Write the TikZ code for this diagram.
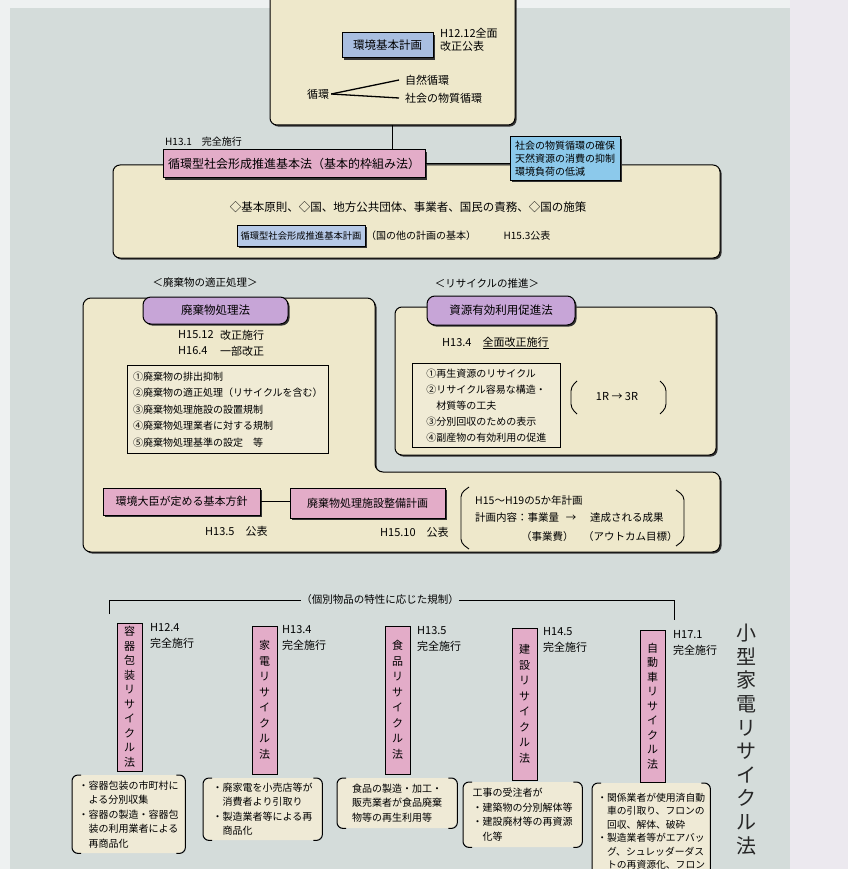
\documentclass[tikz,border=0pt]{standalone}
\usepackage{fontspec}
\setmainfont{Noto Sans CJK JP}
\usetikzlibrary{shadows,calc}
\newcommand{\fs}[2]{\fontsize{#1pt}{#2pt}\selectfont}
\definecolor{pagebg}{HTML}{D4DCDA}
\definecolor{edgewhite}{HTML}{EEF1F1}
\definecolor{rightstrip}{HTML}{ECE9EF}
\definecolor{creamc}{HTML}{EEE8CB}
\definecolor{pinkc}{HTML}{E3ACC8}
\definecolor{purplec}{HTML}{C7A5D7}
\definecolor{envblue}{HTML}{A9BEE0}
\definecolor{goalblue}{HTML}{8CC9EB}
\definecolor{planblue}{HTML}{B6C9E7}
\definecolor{itemc}{HTML}{F0EBD5}
\definecolor{descc}{HTML}{EFEAD6}
\tikzset{
  shad/.style={drop shadow={shadow xshift=1.6pt, shadow yshift=-1.6pt, fill=black!80, opacity=1}},
  creambox/.style={draw=black, line width=1pt, fill=creamc, rounded corners=7pt, shad, inner sep=0pt},
  pinkbox/.style={draw=black, line width=1pt, fill=pinkc, inner sep=0pt, shad, font=\fs{12}{14}},
  purplebox/.style={draw=black, line width=1pt, fill=purplec, rounded corners=8pt, inner sep=0pt, shad, font=\fs{11.5}{14}},
  bluebox/.style={draw=black, line width=1pt, inner sep=0pt, shad},
  itembox/.style={draw=black, line width=0.9pt, fill=itemc, inner sep=3pt, align=left, anchor=north west},
  vbox/.style={draw=black, line width=0.9pt, fill=pinkc, inner sep=0pt, align=center, font=\fs{11}{14.5}, minimum width=25pt},
  descbox/.style={fill=descc, rounded corners=8pt, inner xsep=5pt, inner ysep=4pt, align=left, anchor=north west, font=\fs{10}{14.5}},
  txt/.style={inner sep=0pt, font=\fs{11}{13}},
  conn/.style={draw=black, line width=1pt},
  brkline/.style={draw=black, line width=1pt, rounded corners=6pt},
  parenline/.style={draw=black, line width=0.9pt, rounded corners=4pt},
}
\newcommand{\brk}[1]{%
  \draw[brkline] ([xshift=9pt]#1.north west) -- (#1.north west) -- (#1.south west) -- ([xshift=9pt]#1.south west);
  \draw[brkline] ([xshift=-9pt]#1.north east) -- (#1.north east) -- (#1.south east) -- ([xshift=-9pt]#1.south east);}
\begin{document}
\begin{tikzpicture}[x=1pt,y=-1pt]
\useasboundingbox (0,0) rectangle (848,869);
% page
\fill[pagebg] (0,0) rectangle (848,869);
\fill[edgewhite] (0,0) rectangle (848,8);
\fill[edgewhite] (0,0) rectangle (10,869);
\fill[rightstrip] (790,0) rectangle (848,869);

% ---------- top: environment basic plan ----------
\node[creambox, minimum width=245pt, minimum height=140pt] (top) at (392.5,55) {};
\node[bluebox, fill=envblue, minimum width=91pt, minimum height=25pt, font=\fs{11.5}{13}] (envplan) at (387.5,45.5) {環境基本計画};
\node[txt, align=left, anchor=west, font=\fs{11}{13}] (envdate) at (440,40) {H12.12全面\\改正公表};
\node[txt] (junkan) at (318,94) {循環};
\node[txt, anchor=west] (shizen) at (405,80) {自然循環};
\node[txt, anchor=west] (shakai) at (405,98) {社会の物質循環};
\draw[conn, line width=1.3pt] ([xshift=2pt]junkan.east) -- ([xshift=-6pt]shizen.west);
\draw[conn, line width=1.3pt] ([xshift=2pt]junkan.east) -- ([xshift=-6pt]shakai.west);

% ---------- basic law frame ----------
\node[creambox, minimum width=607pt, minimum height=93pt] (big) at (416.5,211.5) {};
\node[pinkbox, minimum width=262pt, minimum height=28pt] (law) at (294,164) {循環型社会形成推進基本法（基本的枠組み法）};
\node[bluebox, fill=goalblue, minimum width=110pt, minimum height=43pt, align=left, font=\fs{10}{13}] (goal) at (565,158.5) {社会の物質循環の確保\\天然資源の消費の抑制\\環境負荷の低減};
\draw[conn] (top.south) -- (top.south |- law.north);
\draw[conn] (law.east) -- (law.east -| goal.west);
\node[txt, anchor=west, font=\fs{10}{12}] (lawdate) at (165,142) {H13.1\quad 完全施行};
\node[txt, font=\fs{11.5}{13}] (principles) at (408,207) {◇基本原則、◇国、地方公共団体、事業者、国民の責務、◇国の施策};
\node[bluebox, fill=planblue, minimum width=128pt, minimum height=21pt, font=\fs{9.3}{12}] (plan) at (301,236) {循環型社会形成推進基本計画};
\node[txt, font=\fs{10}{12}] (planrole) at (421,236) {（国の他の計画の基本）};
\node[txt, font=\fs{10}{12}] (plandate) at (527,236) {H15.3公表};

% ---------- waste section (left) ----------
\node[txt, font=\fs{10.5}{12}] (wastehead) at (205,283) {＜廃棄物の適正処理＞};
\node[txt, font=\fs{10.5}{12}] (rechead) at (487,283) {＜リサイクルの推進＞};
\path[draw=black, line width=1pt, fill=creamc, rounded corners=8pt, shad]
  (83,298) -- (375,298) -- (375,472) -- (720,472) -- (720,552) -- (83,552) -- cycle;
\node[creambox, minimum width=321pt, minimum height=148pt] (recbox) at (555.5,381) {};

\node[purplebox, minimum width=145pt, minimum height=27pt] (wastelaw) at (215.5,310.5) {廃棄物処理法};
\node[txt, anchor=west, font=\fs{11}{13}] (wd1a) at (178,335) {H15.12};
\node[txt, anchor=west, font=\fs{11}{13}] (wd1b) at (220,335) {改正施行};
\node[txt, anchor=west, font=\fs{11}{13}] (wd2a) at (178,351) {H16.4};
\node[txt, anchor=west, font=\fs{11}{13}] (wd2b) at (220,351) {一部改正};
\node[itembox, font=\fs{10}{16.5}, minimum width=201pt, minimum height=88pt] (witems) at (127,365) {①廃棄物の排出抑制\\②廃棄物の適正処理（リサイクルを含む）\\③廃棄物処理施設の設置規制\\④廃棄物処理業者に対する規制\\⑤廃棄物処理基準の設定　等};

\node[pinkbox, minimum width=157pt, minimum height=27pt, font=\fs{11}{13}] (hoshin) at (181.5,501.5) {環境大臣が定める基本方針};
\node[pinkbox, minimum width=155pt, minimum height=30pt, font=\fs{11}{13}] (seibi) at (367.5,503) {廃棄物処理施設整備計画};
\draw[conn] (hoshin.east) -- (hoshin.east -| seibi.west);
\node[txt, anchor=west] (hoshindate) at (205,531) {H13.5\quad 公表};
\node[txt, anchor=west] (seibidate) at (380,532) {H15.10\quad 公表};
\node[txt, anchor=west, font=\fs{10.5}{12}] (five1) at (475,500) {H15～H19の5か年計画};
\node[txt, anchor=west, font=\fs{10.5}{12}] (five2) at (475,518) {計画内容：事業量};
\node[txt, font=\fs{10.5}{12}] (five2arrow) at (571,518) {→};
\node[txt, anchor=west, font=\fs{10.5}{12}] (five2b) at (590,518) {達成される成果};
\node[txt, anchor=west, font=\fs{10.5}{12}] (five3a) at (521,537) {（事業費）};
\node[txt, anchor=west, font=\fs{10.5}{12}] (five3b) at (583,537) {（アウトカム目標）};
\draw[parenline] (469,487) -- (461,493) -- (461,543) -- (469,549);
\draw[parenline] (676,490) -- (684,496) -- (684,540) -- (676,546);

% ---------- recycling section (right) ----------
\node[purplebox, minimum width=148pt, minimum height=29pt] (reslaw) at (501,310.5) {資源有効利用促進法};
\node[txt, anchor=west] (rdate) at (442,343) {H13.4\quad \underline{全面改正施行}};
\node[itembox, font=\fs{10}{16}, minimum width=148pt, minimum height=84pt] (ritems) at (412,363) {①再生資源のリサイクル\\②リサイクル容易な構造・\\　材質等の工夫\\③分別回収のための表示\\④副産物の有効利用の促進};
\node[txt, font=\fs{11}{13}] (rr) at (617,397) {1R → 3R};
\draw[parenline] (577,381) -- (571,387) -- (571,408) -- (577,414);
\draw[parenline] (660,381) -- (666,387) -- (666,408) -- (660,414);

% ---------- individual recycling laws ----------
\node[txt, font=\fs{10.5}{12}] (kobetsu) at (380,600) {（個別物品の特性に応じた規制）};
\coordinate (brL) at (109,614);
\coordinate (brR) at (674,620);
\draw[conn] (brL) |- (kobetsu.west);
\draw[conn] (kobetsu.east) -| (brR);

\node[vbox, minimum height=148pt] (yoki) at (129.5,697) {容\\器\\包\\装\\リ\\サ\\イ\\ク\\ル\\法};
\node[vbox, minimum height=148pt, font=\fs{11}{15.5}] (kaden) at (264.5,700) {家\\電\\リ\\サ\\イ\\ク\\ル\\法};
\node[vbox, minimum height=148pt, font=\fs{11}{15.5}] (shokuhin) at (397.5,700) {食\\品\\リ\\サ\\イ\\ク\\ル\\法};
\node[vbox, minimum height=152pt, font=\fs{11}{15.5}] (kensetsu) at (524.5,704) {建\\設\\リ\\サ\\イ\\ク\\ル\\法};
\node[vbox, minimum height=152pt] (jidosha) at (652.5,706) {自\\動\\車\\リ\\サ\\イ\\ク\\ル\\法};

\node[txt, anchor=north west, align=left, font=\fs{11}{16.5}] (d1) at (150,623) {H12.4\\完全施行};
\node[txt, anchor=north west, align=left, font=\fs{11}{16.5}] (d2) at (282,625) {H13.4\\完全施行};
\node[txt, anchor=north west, align=left, font=\fs{11}{16.5}] (d3) at (417,626) {H13.5\\完全施行};
\node[txt, anchor=north west, align=left, font=\fs{11}{16.5}] (d4) at (543,627) {H14.5\\完全施行};
\node[txt, anchor=north west, align=left, font=\fs{11}{16.5}] (d5) at (673,630) {H17.1\\完全施行};

\node[descbox, minimum width=113pt, minimum height=78pt] (desc1) at (72,775) {・容器包装の市町村に\\　よる分別収集\\・容器の製造・容器包\\　装の利用業者による\\　再商品化};
\node[descbox, minimum width=119pt, minimum height=62pt] (desc2) at (203,778) {・廃家電を小売店等が\\　消費者より引取り\\・製造業者等による再\\　商品化};
\node[descbox, minimum width=120pt, minimum height=50pt] (desc3) at (337,778) {食品の製造・加工・\\販売業者が食品廃棄\\物等の再生利用等};
\node[descbox, minimum width=119pt, minimum height=65pt] (desc4) at (463,782) {工事の受注者が\\・建築物の分別解体等\\・建設廃材等の再資源\\　化等};
\node[descbox, minimum width=118pt, minimum height=96pt, inner ysep=3pt, font=\fs{9.8}{13.4}] (desc5) at (592,783) {・関係業者が使用済自動\\　車の引取り、フロンの\\　回収、解体、破砕\\・製造業者等がエアバッ\\　グ、シュレッダーダス\\　トの再資源化、フロン};
\brk{desc1}
\brk{desc2}
\brk{desc3}
\brk{desc4}
\brk{desc5}

% handwritten note
\node[inner sep=0pt, anchor=north, align=center, font=\fs{20}{23.6}, text=black!85] (memo) at (746,624) {小\\型\\家\\電\\リ\\サ\\イ\\ク\\ル\\法};
\end{tikzpicture}
\end{document}
